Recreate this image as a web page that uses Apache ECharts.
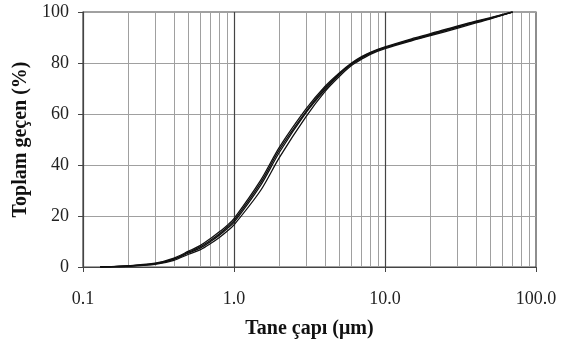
<!DOCTYPE html>
<html><head><meta charset="utf-8">
<script src="https://cdn.jsdelivr.net/npm/echarts@6/dist/echarts.min.js"></script>
<style>html,body{margin:0;padding:0;background:#fff}#c{width:567px;height:344px}</style>
</head><body><div id="c"></div>
<script>
const sizes = [0.13, 0.15, 0.2, 0.3, 0.4, 0.5, 0.6, 0.7, 0.8, 0.9, 1.0, 1.5, 2, 3, 4, 5, 6, 7, 8, 10, 15, 20, 30, 40, 50, 70];
const sampleA = [0, 0.1, 0.4, 1.2, 3.0, 5.5, 7.5, 10.0, 12.5, 15.0, 17.5, 32, 45, 60.5, 69.5, 75.5, 79.5, 82, 83.8, 86, 89, 91, 94, 96, 97.5, 100];
const sampleB = [0, 0.1, 0.5, 1.5, 3.5, 6.2, 8.5, 11.2, 13.8, 16.3, 19.0, 34, 47, 62, 70.8, 76.2, 80, 82.5, 84.2, 86.3, 89.5, 91.5, 94.5, 96.4, 97.8, 100];
const sampleC = [0, 0.1, 0.3, 1.0, 2.6, 5.0, 6.8, 9.2, 11.6, 14.0, 16.5, 30, 43, 59, 68.8, 74.8, 79, 81.5, 83.4, 85.6, 88.7, 90.7, 93.6, 95.7, 97.3, 100];
const sampleD = [0, 0.1, 0.4, 1.3, 3.2, 5.8, 8.0, 10.5, 13.0, 15.6, 18.2, 33, 46, 61, 70.2, 75.8, 79.7, 82.2, 84, 86.1, 89.2, 91.2, 94.2, 96.2, 97.6, 100];
const samples = [sampleA, sampleB, sampleC, sampleD];
const minorGrid = [0.2,0.3,0.4,0.5,0.6,0.7,0.8,0.9,2,3,4,5,6,7,8,9,20,30,40,50,60,70,80,90];
const majorGrid = [1, 10];
const xTicks = [0.1, 1, 10, 100];
const yTicks = [0, 20, 40, 60, 80, 100];

const chart = echarts.init(document.getElementById('c'));
const font = '"Liberation Serif", "DejaVu Serif", serif';
const series = samples.map(s => ({
  type: 'line', data: sizes.map((x, i) => [x, s[i]]),
  showSymbol: false, smooth: 0.3, lineStyle: {color: '#111', width: 1.3}, z: 5
}));
series.push({
  type: 'line', data: [], silent: true,
  markLine: {
    silent: true, symbol: 'none', label: {show: false}, animation: false,
    data: minorGrid.map(v => ({xAxis: v, lineStyle: {color: '#a0a0a0', width: 1, type: 'solid'}}))
      .concat(majorGrid.map(v => ({xAxis: v, lineStyle: {color: '#444', width: 1.2, type: 'solid'}})))
  }
});
chart.setOption({
  animation: false,
  grid: {left: 83, right: 31, top: 12, bottom: 77, show: true, borderColor: '#444', borderWidth: 1.2},
  xAxis: {
    type: 'log', logBase: 10, min: 0.1, max: 100,
    name: 'Tane çapı (μm)', nameLocation: 'middle', nameGap: 52,
    nameTextStyle: {fontFamily: font, fontSize: 20, fontWeight: 'bold', color: '#111'},
    axisLine: {show: true, lineStyle: {color: '#444', width: 1.2}},
    axisTick: {show: true, length: 5, lineStyle: {color: '#444'}},
    axisLabel: {fontFamily: font, fontSize: 18, color: '#222', margin: 23,
      formatter: v => v < 1 ? '0.1' : Number(v).toFixed(1)},
    splitLine: {show: false}, minorTick: {show: false}
  },
  yAxis: {
    type: 'value', min: 0, max: 100, interval: 20,
    name: 'Toplam geçen (%)', nameLocation: 'middle', nameGap: 50,
    nameTextStyle: {fontFamily: font, fontSize: 20, fontWeight: 'bold', color: '#111'},
    axisLine: {show: true, lineStyle: {color: '#444', width: 1.2}},
    axisTick: {show: true, length: 5, lineStyle: {color: '#444'}},
    axisLabel: {fontFamily: font, fontSize: 18, color: '#222', margin: 14},
    splitLine: {show: true, lineStyle: {color: '#a0a0a0', width: 1}}
  },
  series: series
});
</script></body></html>
